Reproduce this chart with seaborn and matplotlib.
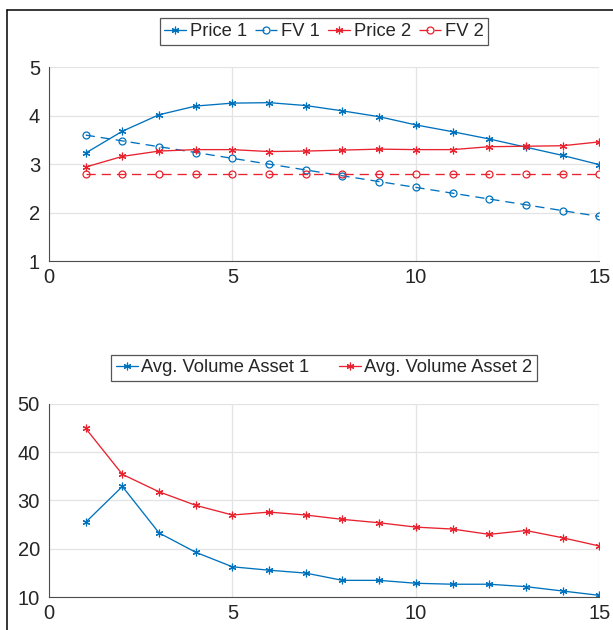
import matplotlib
matplotlib.use('Agg')
import matplotlib.pyplot as plt
from matplotlib.lines import Line2D
import seaborn as sns
import numpy as np

# periods 1..15
periodos = list(range(1, 16))

precio_1 = [3.23, 3.68, 4.02, 4.20, 4.26, 4.27, 4.21, 4.10, 3.98, 3.81, 3.67, 3.52, 3.35, 3.18, 2.99]
fv_1 = [3.60, 3.48, 3.36, 3.24, 3.12, 3.00, 2.88, 2.76, 2.64, 2.52, 2.40, 2.28, 2.16, 2.04, 1.92]
precio_2 = [2.94, 3.16, 3.27, 3.30, 3.30, 3.26, 3.27, 3.29, 3.31, 3.30, 3.30, 3.36, 3.37, 3.38, 3.46]
fv_2 = [2.80] * 15

volumen_1 = [25.5, 32.9, 23.3, 19.3, 16.3, 15.6, 15.0, 13.5, 13.5, 12.9, 12.7, 12.7, 12.2, 11.3, 10.4]
volumen_2 = [44.9, 35.4, 31.8, 29.0, 27.0, 27.6, 27.0, 26.1, 25.4, 24.5, 24.1, 23.0, 23.8, 22.3, 20.6]

azul = '#0072BD'
rojo = '#E8222E'

sns.set_style('white')
plt.rcParams['font.family'] = ['Liberation Sans', 'DejaVu Sans']

W, H = 613, 630
fig = plt.figure(figsize=(W / 100, H / 100), dpi=100)

izq, der = 49, 599.3
ax1 = fig.add_axes([izq / W, 1 - 261 / H, (der - izq) / W, (261 - 67.3) / H])
ax2 = fig.add_axes([izq / W, 1 - 597.3 / H, (der - izq) / W, (597.3 - 403.7) / H])

lw = 0.95
dash = (0, (7, 4.5))
aster = (6, 2, 0)

sns.lineplot(x=periodos, y=precio_1, ax=ax1, color=azul, lw=lw, marker=aster, ms=5.5,
             mew=0.85, mec=azul, label='Price 1')
sns.lineplot(x=periodos, y=fv_1, ax=ax1, color=azul, lw=lw, linestyle=dash, marker='o', ms=5,
             mfc='none', mec=azul, mew=0.9, label='FV 1')
sns.lineplot(x=periodos, y=precio_2, ax=ax1, color=rojo, lw=lw, marker=aster, ms=5.5,
             mew=0.85, mec=rojo, label='Price 2')
sns.lineplot(x=periodos, y=fv_2, ax=ax1, color=rojo, lw=lw, linestyle=dash, marker='o', ms=5,
             mfc='none', mec=rojo, mew=0.9, label='FV 2')

sns.lineplot(x=periodos, y=volumen_1, ax=ax2, color=azul, lw=lw, marker=aster, ms=5.5,
             mew=0.85, mec=azul, label='Avg. Volume Asset 1')
sns.lineplot(x=periodos, y=volumen_2, ax=ax2, color=rojo, lw=lw, marker=aster, ms=5.5,
             mew=0.85, mec=rojo, label='Avg. Volume Asset 2')

for ax, yl, yt in [(ax1, (1, 5), [1, 2, 3, 4, 5]), (ax2, (10, 50), [10, 20, 30, 40, 50])]:
    ax.set_xlim(0, 15)
    ax.set_ylim(*yl)
    ax.set_xticks([0, 5, 10, 15])
    ax.set_yticks(yt)
    ax.grid(True, color='#e3e3e3', lw=0.9)
    ax.set_axisbelow(True)
    for s in ['top', 'right']:
        ax.spines[s].set_visible(False)
    for s in ['left', 'bottom']:
        ax.spines[s].set_color('#4d4d4d')
        ax.spines[s].set_linewidth(0.8)
    ax.tick_params(axis='both', direction='in', length=3, width=0.8, color='#4d4d4d',
                   labelsize=14.5, labelcolor='#262626')
    ax.tick_params(axis='y', pad=6.5)
    ax.tick_params(axis='x', pad=5)
    ax.set_xlabel('')
    ax.set_ylabel('')

ley1 = ax1.legend(loc='center', bbox_to_anchor=(324 / W, 1 - 31.5 / H), bbox_transform=fig.transFigure,
                  ncol=4, fontsize=13.2, frameon=True, fancybox=False, framealpha=1,
                  edgecolor='#555555', handlelength=1.2, handletextpad=0.2, columnspacing=0.45,
                  borderpad=0.25, borderaxespad=0)
ley1.get_frame().set_linewidth(0.9)

ley2 = ax2.legend(loc='center', bbox_to_anchor=(324 / W, 1 - 368 / H), bbox_transform=fig.transFigure,
                  ncol=2, fontsize=13.2, frameon=True, fancybox=False, framealpha=1,
                  edgecolor='#555555', handlelength=1.2, handletextpad=0.2, columnspacing=1.6,
                  borderpad=0.25, borderaxespad=0)
ley2.get_frame().set_linewidth(0.9)

# black frame on the left and top edges
fig.add_artist(Line2D([6.5 / W, 6.5 / W], [0, 1 - 9.5 / H], transform=fig.transFigure,
                      color='black', lw=1.1))
fig.add_artist(Line2D([6.5 / W, 1], [1 - 9.5 / H, 1 - 9.5 / H], transform=fig.transFigure,
                      color='black', lw=1.1))

fig.savefig('out.png', dpi=100)
